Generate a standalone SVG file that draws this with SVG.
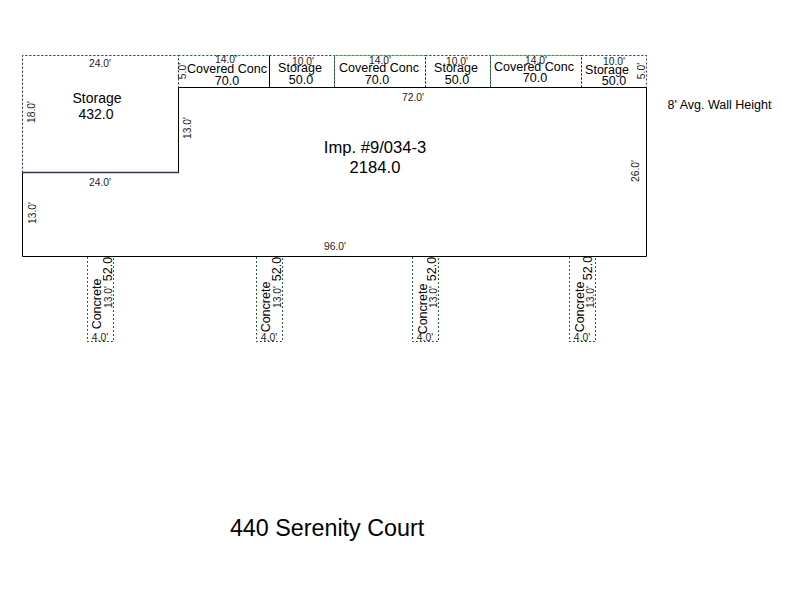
<svg xmlns="http://www.w3.org/2000/svg" width="800" height="600" viewBox="0 0 800 600">
<style>
text{font-family:"Liberation Sans",Arial,sans-serif;fill:#000;text-anchor:middle}
.d{font-size:10.3px;fill:#222}
.l{font-size:12.5px}
.s{font-size:14px}
.g{fill:none;stroke:#1f9a3a;stroke-width:1;stroke-dasharray:2 2}
.b{fill:none;stroke:#3a3aa8;stroke-width:1;stroke-dasharray:2 2}
.k{fill:none;stroke:#000;stroke-width:1}
.kd{fill:none;stroke:#333;stroke-width:1;stroke-dasharray:1 3}
.ka{fill:none;stroke:#222;stroke-width:1;stroke-dasharray:2 2;stroke-dashoffset:2}
</style>
<rect width="800" height="600" fill="#fff"/>
<path class="k" d="M22.5 172.5V256.5H646.5V87.5H178.5V172.5"/>
<path d="M22 172.5H179" fill="none" stroke="#333350" stroke-width="1.6"/>
<path class="b" d="M22.5 172.5V55.5H178.5V87.5"/>
<path class="kd" d="M22.5 172.5V55.5H178.5V87.5"/>
<path class="g" d="M178.5 55.5H269.5M178.5 87.5H269.5"/>
<path class="k" d="M269.5 55.5V87.5"/>
<path class="b" d="M269.5 55.5H334.5M425.5 55.5H490.5M581.5 55.5H646.5V87.5"/>
<path class="g" d="M334.5 55.5V87.5M425.5 87.5V55.5H334.5M490.5 55.5V87.5M581.5 87.5V55.5H490.5"/>
<path class="kd" d="M269.5 55.5H646.5M178.5 55.5H269.5"/>
<path class="ka" d="M425.5 55.5V87.5M490.5 55.5V87.5M581.5 55.5V87.5M334.5 55.5V87.5"/>
<path class="k" d="M178.5 87.5H646.5"/>
<path class="g" d="M87.5 257V341.5H113.5V257M256.5 257V341.5H282.5V257M412.5 257V341.5H438.5V257M569.5 257V341.5H595.5V257"/>
<path class="kd" d="M87.5 257V341.5H113.5V257M256.5 257V341.5H282.5V257M412.5 257V341.5H438.5V257M569.5 257V341.5H595.5V257"/>

<text class="d" x="100" y="67">24.0'</text>
<text class="d" x="100" y="186">24.0'</text>
<text class="d" transform="translate(35 112) rotate(-90)">18.0'</text>
<text class="d" transform="translate(36 213) rotate(-90)">13.0'</text>
<text class="d" transform="translate(191 128) rotate(-90)">13.0'</text>
<text class="d" transform="translate(186 71) rotate(-90)">5.0'</text>
<text class="d" transform="translate(645 71) rotate(-90)">5.0'</text>
<text class="d" transform="translate(639 171) rotate(-90)">26.0'</text>
<text class="d" x="413" y="101">72.0'</text>
<text class="d" x="335" y="250">96.0'</text>
<text class="d" x="226" y="63">14.0'</text>
<text class="d" x="303" y="65">10.0'</text>
<text class="d" x="380" y="64">14.0'</text>
<text class="d" x="457" y="65">10.0'</text>
<text class="d" x="536" y="64">14.0'</text>
<text class="d" x="614" y="65">10.0'</text>

<text class="s" x="97" y="103">Storage</text>
<text class="s" x="96" y="119">432.0</text>
<text class="l" x="227" y="73">Covered Conc</text>
<text class="l" x="227" y="85">70.0</text>
<text class="l" x="300" y="72">Storage</text>
<text class="l" x="301" y="84">50.0</text>
<text class="l" x="379" y="72">Covered Conc</text>
<text class="l" x="377" y="84">70.0</text>
<text class="l" x="456" y="72">Storage</text>
<text class="l" x="457" y="84">50.0</text>
<text class="l" x="534" y="71">Covered Conc</text>
<text class="l" x="535" y="82">70.0</text>
<text class="l" x="607" y="74">Storage</text>
<text class="l" x="614" y="85">50.0</text>

<text style="font-size:16.6px" x="375" y="153">Imp. #9/034-3</text>
<text style="font-size:16.6px" x="375" y="173">2184.0</text>
<text style="font-size:12.5px" x="719.5" y="109">8' Avg. Wall Height</text>

<g>
<text class="l" transform="translate(101 304) rotate(-90)">Concrete</text>
<text class="d" transform="translate(112 297) rotate(-90)">13.0'</text>
<text class="l" transform="translate(112 269) rotate(-90)">52.0</text>
<text class="d" x="100" y="341">4.0'</text>
<text class="l" transform="translate(270 307) rotate(-90)">Concrete</text>
<text class="d" transform="translate(281 297) rotate(-90)">13.0'</text>
<text class="l" transform="translate(281 269) rotate(-90)">52.0</text>
<text class="d" x="269" y="341">4.0'</text>
<text class="l" transform="translate(427 309) rotate(-90)">Concrete</text>
<text class="d" transform="translate(437 297) rotate(-90)">13.0'</text>
<text class="l" transform="translate(436 269) rotate(-90)">52.0</text>
<text class="d" x="425" y="341">4.0'</text>
<text class="l" transform="translate(584 307) rotate(-90)">Concrete</text>
<text class="d" transform="translate(594 297) rotate(-90)">13.0'</text>
<text class="l" transform="translate(592 268) rotate(-90)">52.0</text>
<text class="d" x="582" y="341">4.0'</text>
</g>
<text style="font-size:23.3px" x="327" y="536">440 Serenity Court</text>
</svg>
